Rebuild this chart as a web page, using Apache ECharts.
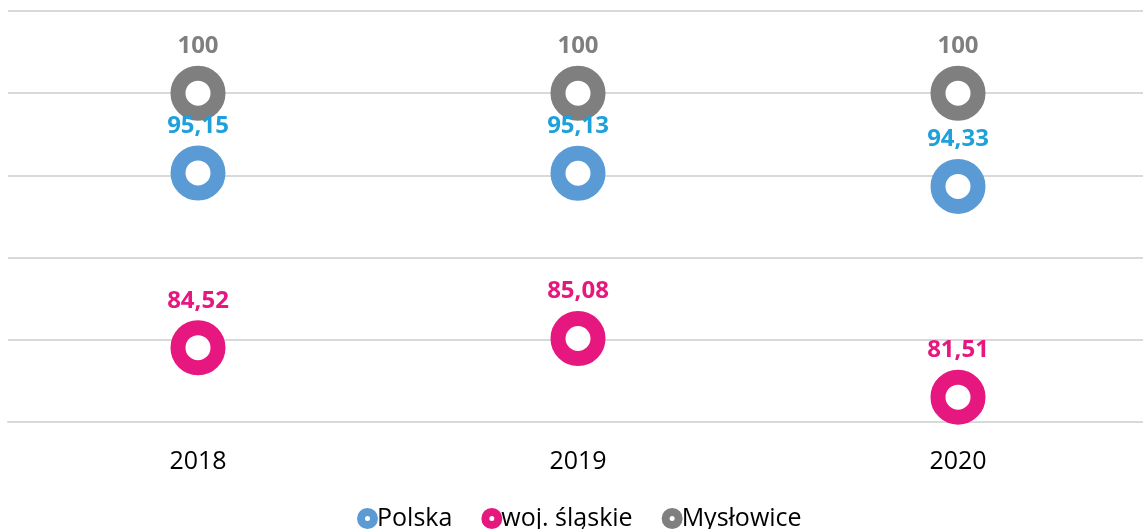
<!DOCTYPE html>
<html>
<head>
<meta charset="utf-8">
<script src="https://cdn.jsdelivr.net/npm/echarts@6/dist/echarts.min.js"></script>
<style>html,body{margin:0;padding:0;background:#fff;overflow:hidden}#c{width:1148px;height:529px}</style>
</head>
<body>
<div id="c"></div>
<script>
var categories = ['2018', '2019', '2020'];
var polska = [95.15, 95.13, 94.33];
var slaskie = [84.52, 85.08, 81.51];
var myslowice = [100, 100, 100];
var seriesNames = ['Polska', 'woj. śląskie', 'Mysłowice'];
var markerColors = ['#5B9BD5', '#E6177F', '#7F7F7F'];
var labelColors = ['#1EA0DA', '#E6177F', '#7F7F7F'];

var font = '"Open Sans", "Noto Sans", sans-serif';

function mk(name, data, i) {
  return {
    name: name,
    type: 'scatter',
    data: data,
    symbol: 'circle',
    symbolSize: 40,
    itemStyle: { color: '#fff', borderColor: markerColors[i], borderWidth: 15, opacity: 1 },
    label: {
      show: true, position: 'inside', offset: [0, -47],
      formatter: function (p) { return String(p.value).replace('.', ','); },
      color: labelColors[i], fontFamily: font, fontWeight: 'bold', fontSize: 24
    },
    emphasis: { disabled: true },
    z: 3 - i
  };
}

var chart = echarts.init(document.getElementById('c'));
chart.setOption({
  animation: false,
  grid: { left: 8, right: 0, top: 11, bottom: 107, containLabel: false },
  xAxis: {
    type: 'category', data: categories, boundaryGap: true,
    axisLine: { show: true, lineStyle: { color: '#d9d9d9', width: 2 } },
    axisTick: { show: false },
    axisLabel: { color: '#000', fontFamily: font, fontSize: 25, margin: 27 }
  },
  yAxis: {
    type: 'value', min: 80, max: 105, interval: 5,
    axisLine: { show: false }, axisTick: { show: false }, axisLabel: { show: false },
    splitLine: { lineStyle: { color: '#d9d9d9', width: 2 } }
  },
  legend: {
    top: 501, left: 352, itemWidth: 13, itemHeight: 13, itemGap: 29,
    textStyle: { color: '#000', fontFamily: font, fontSize: 25, padding: [0, 0, 0, -2] },
    data: seriesNames.map(function (n, i) {
      return { name: n, icon: 'circle', itemStyle: { color: '#fff', borderColor: markerColors[i], borderWidth: 8 } };
    })
  },
  series: [
    mk(seriesNames[0], polska, 0),
    mk(seriesNames[1], slaskie, 1),
    mk(seriesNames[2], myslowice, 2)
  ]
});
</script>
</body>
</html>
